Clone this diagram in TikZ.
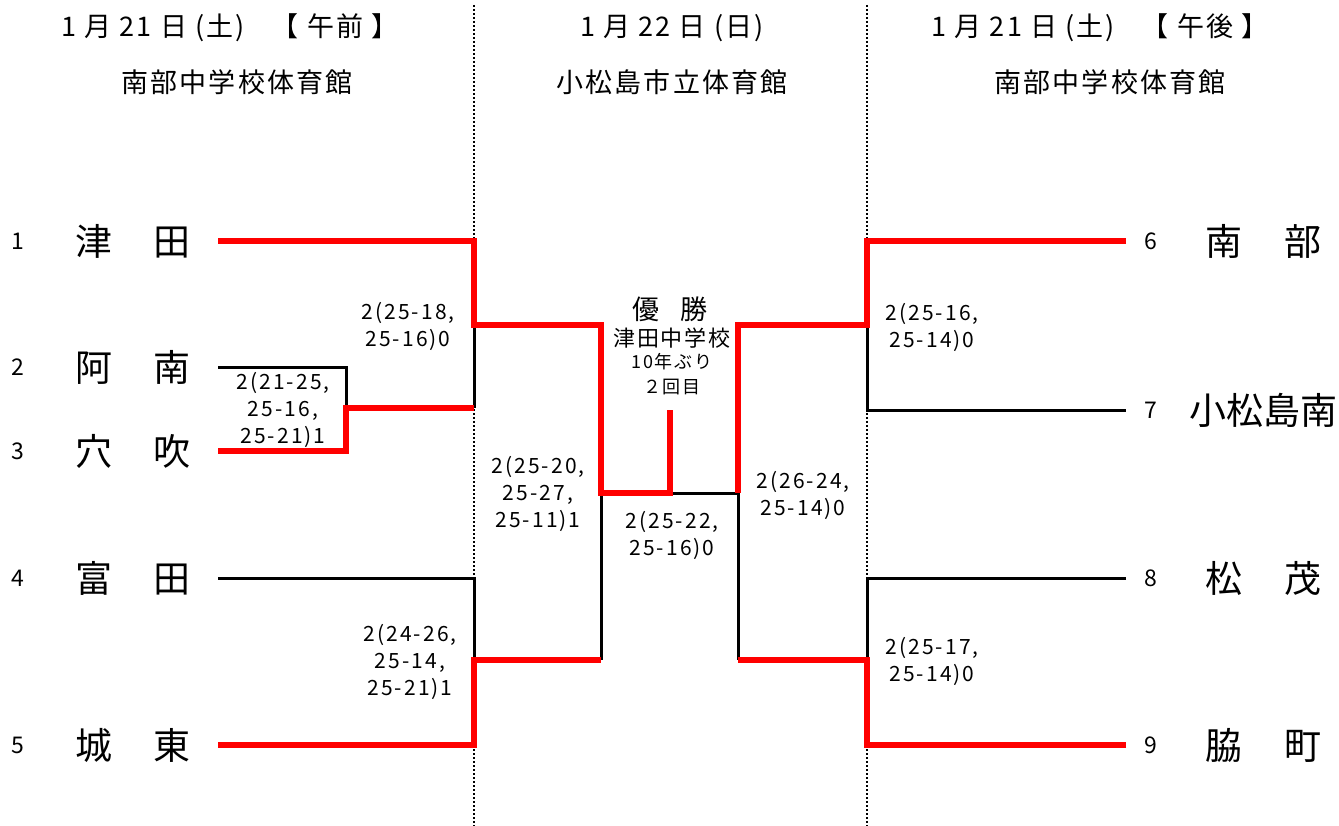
\documentclass[tikz,border=0pt]{standalone}
\usepackage{fontspec}
\setmainfont{Noto Sans CJK JP}
\tikzset{win/.style={draw=red, line width=6pt, line join=miter},
        lose/.style={draw=black, line width=3pt},
        court/.style={draw=black, line width=2.5pt, dash pattern=on 2pt off 2pt},
        team/.style={font=\fontsize{37}{37}\selectfont, inner sep=0pt},
        seed/.style={font=\fontsize{23}{23}\selectfont, inner sep=0pt},
        score/.style={font=\fontsize{21}{27}\selectfont\addfontfeature{LetterSpace=10},
                      align=center, inner sep=0pt},
        head/.style={font=\fontsize{27}{27}\selectfont\addfontfeature{LetterSpace=8}, inner sep=0pt},
        note/.style={font=\fontsize{18}{18}\selectfont\addfontfeature{LetterSpace=10}, inner sep=0pt},
        }

\begin{document}
\begin{tikzpicture}[x=1pt, y=-1pt]
    \useasboundingbox (0,0) rectangle (1339,826);

    % headings
    \node[head] (day1) at (230,28) {1 月 21 日 (土)\quad【 午前 】};
    \node[head] (hall1) at (237,82) {南部中学校体育館};
    \node[head] (day2) at (672,28) {1 月 22 日 (日)};
    \node[head] (hall2) at (672,82) {小松島市立体育館};
    \node[head] (day3) at (1100,28) {1 月 21 日 (土)\quad【 午後 】};
    \node[head] (hall3) at (1110,82) {南部中学校体育館};

    % teams
    \foreach \i/\y/\name in {1/241/津\hspace{42pt}田, 2/367/阿\hspace{42pt}南,
                             3/451/穴\hspace{42pt}吹, 4/578/富\hspace{42pt}田,
                             5/745/城\hspace{42pt}東}{
        \node[seed] (n\i) at (18,\y) {\i};
        \node[team] (t\i) at (133,\y) {\name};
    }
    \foreach \i/\y/\name in {6/241/南\hspace{42pt}部, 7/410/小松島南,
                             8/578/松\hspace{42pt}茂, 9/745/脇\hspace{42pt}町}{
        \node[seed] (n\i) at (1151,\y) {\i};
        \node[team] (t\i) at (1263,\y) {\name};
    }

    \coordinate (a1) at (218,241); \coordinate (j1) at (474,241);
    \coordinate (m1) at (474,325); \coordinate (s1) at (601,325);
    \coordinate (a2) at (218,367); \coordinate (k2) at (346,367);
    \coordinate (a3) at (218,451); \coordinate (k3) at (346,451);
    \coordinate (k23) at (346,408); \coordinate (m23) at (474,408);
    \coordinate (a4) at (218,578); \coordinate (j4) at (474,578);
    \coordinate (a5) at (218,745); \coordinate (j5) at (474,745);
    \coordinate (m45) at (474,660); \coordinate (s45) at (601,660);
    \coordinate (sL) at (601,493); \coordinate (f) at (670,493);
    \coordinate (top) at (670,410); \coordinate (sR) at (738,493);
    \coordinate (a6) at (1126,241); \coordinate (j6) at (867,241);
    \coordinate (m67) at (867,325); \coordinate (s6) at (738,325);
    \coordinate (a7) at (1126,410); \coordinate (m7) at (867,410);
    \coordinate (a8) at (1126,578); \coordinate (j8) at (867,578);
    \coordinate (a9) at (1126,745); \coordinate (j9) at (867,745);
    \coordinate (m89) at (867,660); \coordinate (s89) at (738,660);

    \draw[court] (474,5) -- (474,826);
    \draw[court] (867,5) -- (867,826);

    \draw[lose] (a2) -- (k2) -- (k23);
    \draw[lose] (m1) -- (m23);
    \draw[lose] (a4) -- (j4) -- (m45);
    \draw[lose] (s45) -- (sL);
    \draw[lose] (f) -- (sR) -- (s89);
    \draw[lose] (m67) -- (m7) -- (a7);
    \draw[lose] (a8) -- (j8) -- (m89);

    \draw[win] (a1) -- (j1) -- (m1) -- (s1) -- (sL) -- (f) -- (top);
    \draw[win] (a3) -- (k3) -- (k23) -- (m23);
    \draw[win] (a5) -- (j5) -- (m45) -- (s45);
    \draw[win] (a6) -- (j6) -- (m67) -- (s6) -- (sR);
    \draw[win] (a9) -- (j9) -- (m89) -- (s89);

    % scores
    \node[score] (g23) at (283,410) {2(21-25,\\25-16,\\25-21)1};
    \node[score] (g123) at (408,326) {2(25-18,\\25-16)0};
    \node[score] (g45) at (410,662) {2(24-26,\\25-14,\\25-21)1};
    \node[score] (gL) at (538,494) {2(25-20,\\25-27,\\25-11)1};
    \node[score] (gF) at (672,535) {2(25-22,\\25-16)0};
    \node[score] (gR) at (803,495) {2(26-24,\\25-14)0};
    \node[score] (g67) at (932,327) {2(25-16,\\25-14)0};
    \node[score] (g89) at (932,661) {2(25-17,\\25-14)0};

    % champion
    \node[head] (champ) at (670,309) {優\hspace{22pt}勝};
    \node[head, font=\fontsize{22}{22}\selectfont\addfontfeature{LetterSpace=8}] (school) at (672,338) {津田中学校};
    \node[note] (note1) at (672,362) {10年ぶり};
    \node[note] (note2) at (672,387) {２回目};
\end{tikzpicture}
\end{document}
